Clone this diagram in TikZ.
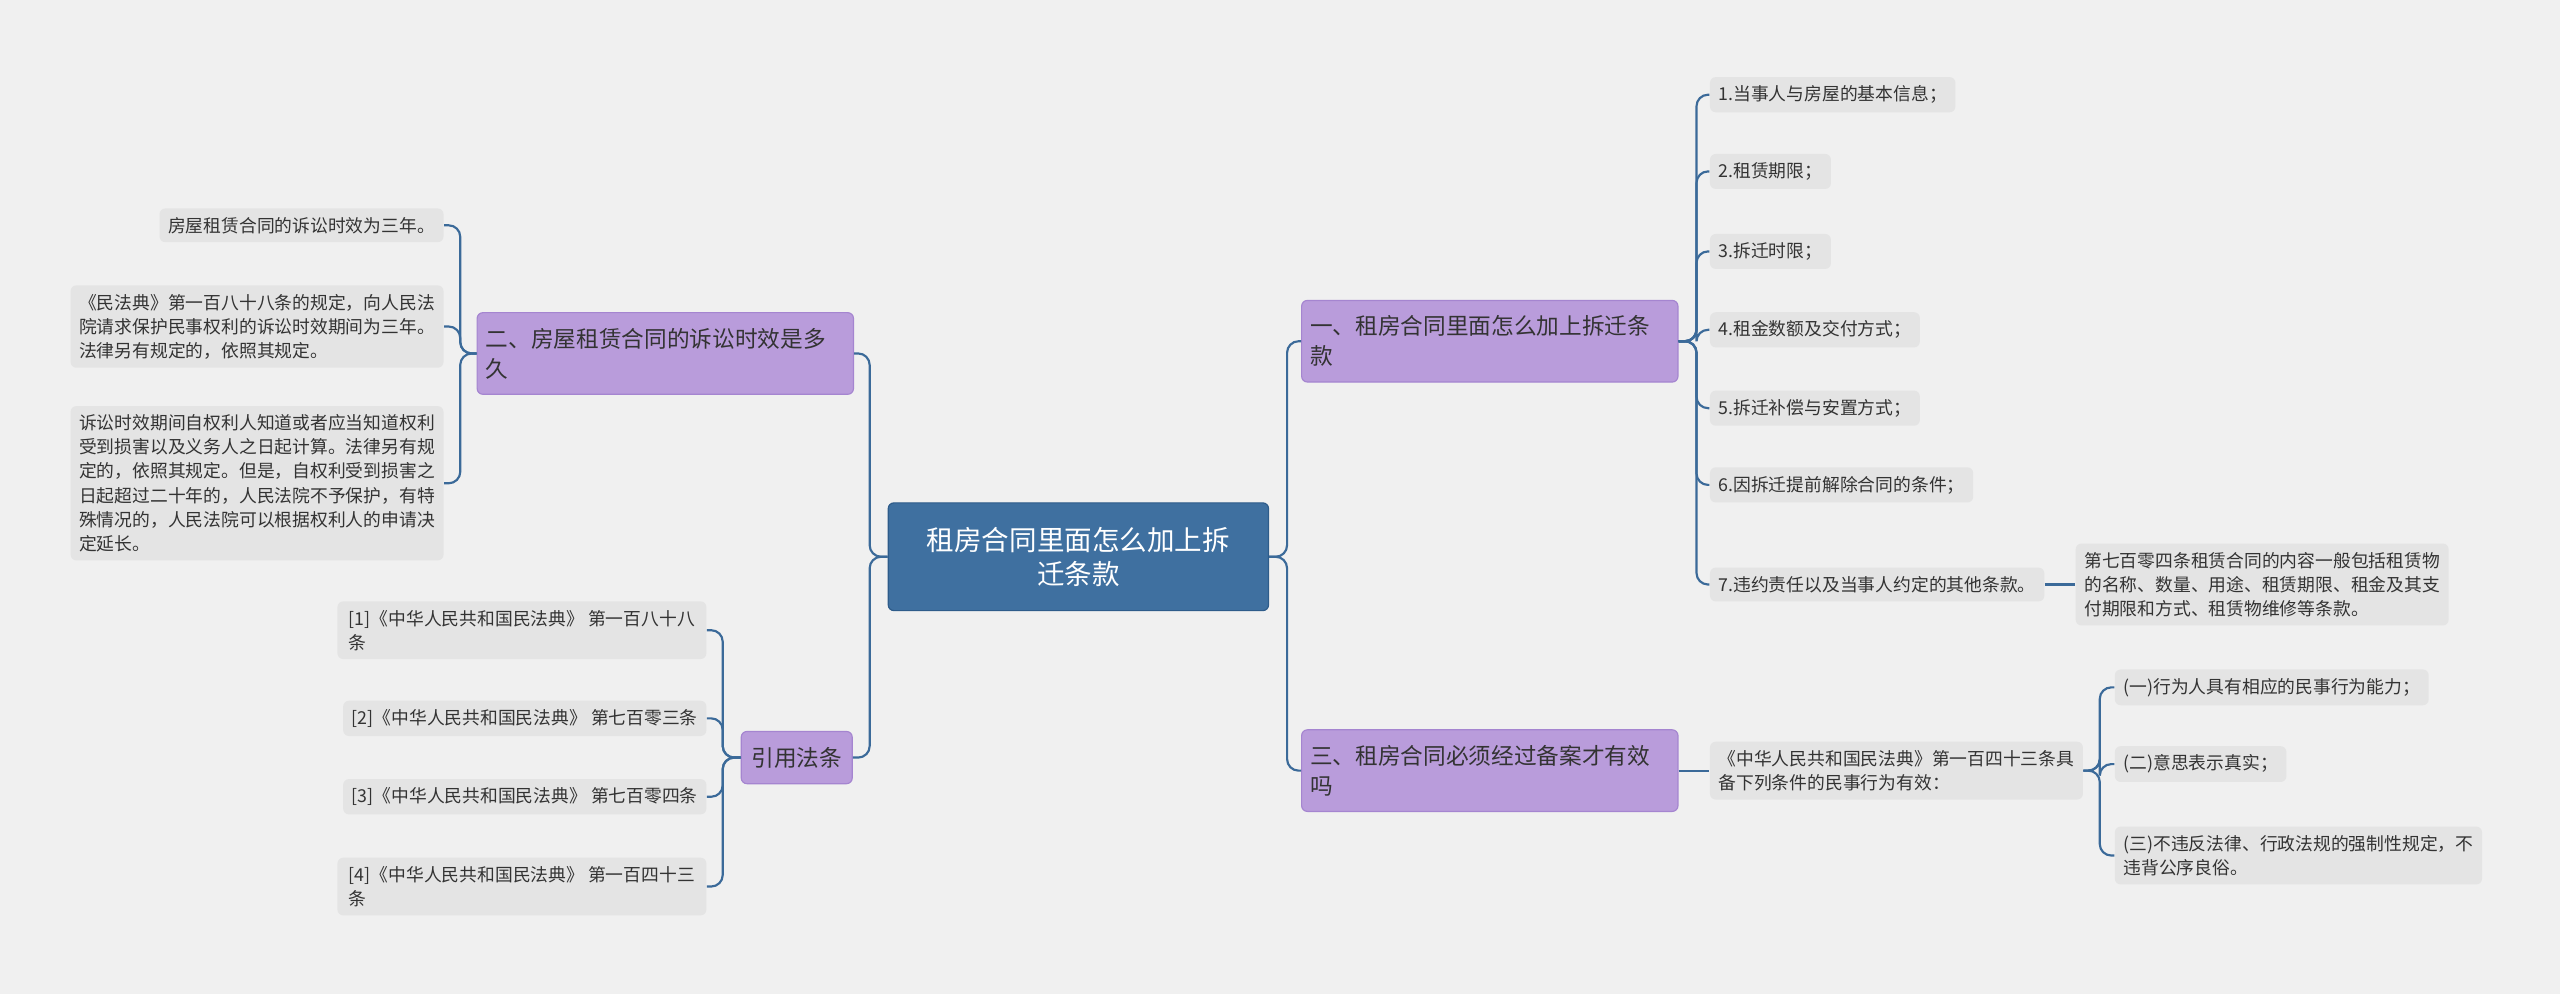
\documentclass[tikz,border=0pt]{standalone}
\usepackage{fontspec}
\setmainfont{Noto Sans CJK SC}
\usetikzlibrary{calc}
\definecolor{bg}{HTML}{F0F0F0}
\definecolor{leaf}{HTML}{E4E4E4}
\definecolor{pur}{HTML}{B99CDB}
\definecolor{purd}{HTML}{A585D0}
\definecolor{cen}{HTML}{3F70A0}
\definecolor{cend}{HTML}{2E5C8A}
\definecolor{ln}{HTML}{3B6A99}
\tikzset{
 cbox/.style={fill=cen,draw=cend,rounded corners=2pt,text=white,font=\fontsize{9.6}{12}\selectfont,align=center,minimum width=4.66cm,minimum height=1.32cm},
 pbox/.style={fill=pur,draw=purd,rounded corners=2pt,text=black!80,font=\fontsize{7.9}{10.5}\selectfont,align=left,inner sep=3pt,minimum height=0.64cm},
 lbox/.style={fill=leaf,rounded corners=2pt,text=black!80,font=\fontsize{6.2}{8.4}\selectfont,align=left,inner sep=3pt,minimum height=0.4cm},
 con/.style={draw=ln,line width=0.75pt,rounded corners=4pt}
}
\begin{document}
\begin{tikzpicture}[x=0.02cm,y=-0.02cm]
\fill[bg] (0,0) rectangle (1568,609);
\useasboundingbox (0,0) rectangle (1568,609);
\node[cbox] (c) at (660.5,341) {租房合同里面怎么加上拆\\迁条款};
\node[pbox,minimum width=4.58cm,minimum height=1.0cm,text width=4.4cm] (p2) at (407.5,216.5) {二、房屋租赁合同的诉讼时效是多\\久};
\node[pbox,minimum width=1.36cm,align=center] (p4) at (488,464) {引用法条};
\node[pbox,minimum width=4.58cm,minimum height=1.0cm,text width=4.4cm] (p1) at (912.5,209) {一、租房合同里面怎么加上拆迁条\\款};
\node[pbox,minimum width=4.58cm,minimum height=1.0cm,text width=4.4cm] (p3) at (912.5,472) {三、租房合同必须经过备案才有效\\吗};
% left leaves
\node[lbox,anchor=east] (l1) at (272,138) {房屋租赁合同的诉讼时效为三年。};
\node[lbox,anchor=east] (l2) at (272,200) {《民法典》第一百八十八条的规定，向人民法\\院请求保护民事权利的诉讼时效期间为三年。\\法律另有规定的，依照其规定。};
\node[lbox,anchor=east] (l3) at (272,296) {诉讼时效期间自权利人知道或者应当知道权利\\受到损害以及义务人之日起计算。法律另有规\\定的，依照其规定。但是，自权利受到损害之\\日起超过二十年的，人民法院不予保护，有特\\殊情况的，人民法院可以根据权利人的申请决\\定延长。};
\node[lbox,anchor=east,minimum width=4.52cm] (f1) at (433,386) {[1]《中华人民共和国民法典》 第一百八十八\\条};
\node[lbox,anchor=east] (f2) at (433,440) {[2]《中华人民共和国民法典》 第七百零三条};
\node[lbox,anchor=east] (f3) at (433,488) {[3]《中华人民共和国民法典》 第七百零四条};
\node[lbox,anchor=east,minimum width=4.52cm] (f4) at (433,543) {[4]《中华人民共和国民法典》 第一百四十三\\条};
% right leaves
\node[lbox,anchor=west] (r1) at (1047,58) {1.当事人与房屋的基本信息；};
\node[lbox,anchor=west] (r2) at (1047,105) {2.租赁期限；};
\node[lbox,anchor=west] (r3) at (1047,154) {3.拆迁时限；};
\node[lbox,anchor=west] (r4) at (1047,202) {4.租金数额及交付方式；};
\node[lbox,anchor=west] (r5) at (1047,250) {5.拆迁补偿与安置方式；};
\node[lbox,anchor=west] (r6) at (1047,297) {6.因拆迁提前解除合同的条件；};
\node[lbox,anchor=west] (r7) at (1047,358) {7.违约责任以及当事人约定的其他条款。};
\node[lbox,anchor=west] (r7a) at (1271,358) {第七百零四条租赁合同的内容一般包括租赁物\\的名称、数量、用途、租赁期限、租金及其支\\付期限和方式、租赁物维修等条款。};
\node[lbox,anchor=west] (s0) at (1047,472) {《中华人民共和国民法典》第一百四十三条具\\备下列条件的民事行为有效：};
\node[lbox,anchor=west] (s1) at (1295,421) {(一)行为人具有相应的民事行为能力；};
\node[lbox,anchor=west] (s2) at (1295,468) {(二)意思表示真实；};
\node[lbox,anchor=west] (s3) at (1295,524) {(三)不违反法律、行政法规的强制性规定，不\\违背公序良俗。};
% connectors
\foreach \t in {p2,p4} \draw[con] (c.west) -- ($(c.west)+(-11,0)$) |- (\t.east);
\foreach \t in {p1,p3} \draw[con] (c.east) -- ($(c.east)+(11,0)$) |- (\t.west);
\foreach \t in {l1,l2,l3} \draw[con] (p2.west) -- ($(p2.west)+(-10,0)$) |- (\t.east);
\foreach \t in {f1,f2,f3,f4} \draw[con] (p4.west) -- ($(p4.west)+(-11,0)$) |- (\t.east);
\foreach \t in {r1,r2,r3,r4,r5,r6,r7} \draw[con] (p1.east) -- ($(p1.east)+(11,0)$) |- (\t.west);
\draw[con] (r7.east) -- (r7a.west);
\draw[con] (p3.east) -- (s0.west);
\foreach \t in {s1,s2,s3} \draw[con] (s0.east) -- ($(s0.east)+(10,0)$) |- (\t.west);
\end{tikzpicture}
\end{document}
